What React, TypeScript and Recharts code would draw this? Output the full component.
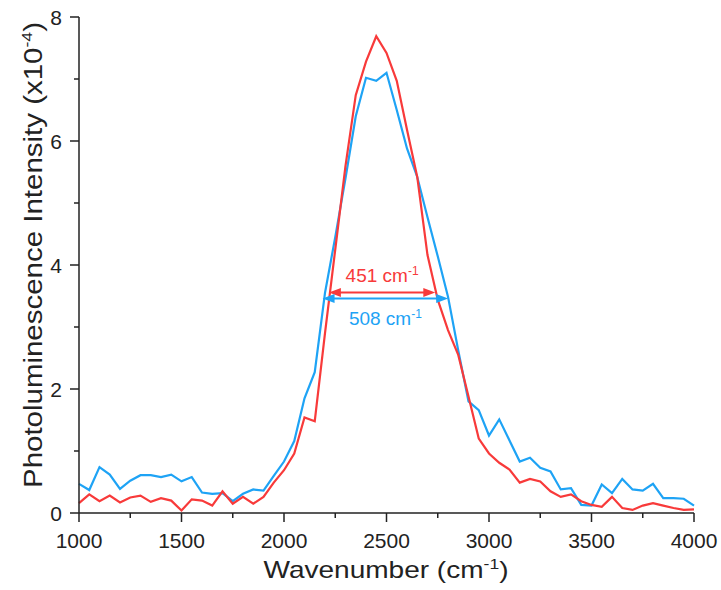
import React from 'react';
import { LineChart, Line, XAxis, YAxis, ReferenceLine } from 'recharts';

const wavenumbers = [
  1000, 1050, 1100, 1150, 1200, 1250, 1300, 1350, 1400, 1450,
  1500, 1550, 1600, 1650, 1700, 1750, 1800, 1850, 1900, 1950,
  2000, 2050, 2100, 2150, 2200, 2250, 2300, 2350, 2400, 2450,
  2500, 2550, 2600, 2650, 2700, 2750, 2800, 2850, 2900, 2950,
  3000, 3050, 3100, 3150, 3200, 3250, 3300, 3350, 3400, 3450,
  3500, 3550, 3600, 3650, 3700, 3750, 3800, 3850, 3900, 3950,
  4000,
];

const redIntensity = [
  0.16, 0.30, 0.19, 0.28, 0.17, 0.25, 0.28, 0.18, 0.24, 0.20,
  0.04, 0.22, 0.20, 0.12, 0.35, 0.15, 0.26, 0.15, 0.26, 0.49,
  0.69, 0.96, 1.54, 1.48, 2.90, 4.25, 5.60, 6.74, 7.28, 7.69,
  7.42, 6.97, 6.18, 5.42, 4.16, 3.44, 2.95, 2.55, 1.88, 1.20,
  0.96, 0.81, 0.70, 0.49, 0.55, 0.51, 0.35, 0.26, 0.30, 0.19,
  0.13, 0.10, 0.26, 0.08, 0.05, 0.12, 0.16, 0.12, 0.08, 0.05,
  0.06,
];

const blueIntensity = [
  0.47, 0.37, 0.74, 0.62, 0.39, 0.52, 0.61, 0.61, 0.58, 0.62,
  0.51, 0.58, 0.33, 0.31, 0.32, 0.19, 0.31, 0.38, 0.36, 0.60,
  0.83, 1.16, 1.85, 2.27, 3.55, 4.45, 5.40, 6.40, 7.02, 6.97,
  7.10, 6.50, 5.88, 5.42, 4.77, 4.14, 3.49, 2.62, 1.80, 1.66,
  1.25, 1.51, 1.17, 0.83, 0.89, 0.73, 0.67, 0.38, 0.40, 0.13,
  0.12, 0.46, 0.32, 0.55, 0.38, 0.36, 0.47, 0.24, 0.24, 0.23,
  0.12,
];

const xTicks = [1000, 1250, 1500, 1750, 2000, 2250, 2500, 2750, 3000, 3250, 3500, 3750, 4000];
const xMajorTicks = [1000, 1500, 2000, 2500, 3000, 3500, 4000];
const yTicks = [0, 1, 2, 3, 4, 5, 6, 7, 8];
const yMajorTicks = [0, 2, 4, 6, 8];

const fwhmLabels = ['451', '508'];
const fwhmStart = [2219, 2188];
const fwhmEnd = [2738, 2801];
const fwhmLevel = [3.555, 3.46];

const RED = '#f83a3a';
const BLUE = '#1ea3f5';
const AXIS = '#222';
const FONT = '"Liberation Sans", Arial, sans-serif';

const data = wavenumbers.map((w, i) => ({ w, red: redIntensity[i], blue: blueIntensity[i] }));

const XTick = (props: any) => {
  const { x, y, payload } = props;
  const major = xMajorTicks.includes(payload.value);
  return (
    <g>
      <line x1={x} y1={y} x2={x} y2={y + (major ? 9 : 5)} stroke={AXIS} strokeWidth={1.5} />
      {major && (
        <text x={x} y={y + 35} textAnchor="middle" fontSize={21} fill={AXIS} fontFamily={FONT}>
          {payload.value}
        </text>
      )}
    </g>
  );
};

const YTick = (props: any) => {
  const { x, y, payload } = props;
  const major = yMajorTicks.includes(payload.value);
  return (
    <g>
      <line x1={x} y1={y} x2={x - (major ? 9 : 5)} y2={y} stroke={AXIS} strokeWidth={1.5} />
      {major && (
        <text x={x - 17} y={y + 7.5} textAnchor="end" fontSize={21} fill={AXIS} fontFamily={FONT}>
          {payload.value}
        </text>
      )}
    </g>
  );
};

const makeArrow = (color: string, label: string, labelDy: number) => (p: any) => {
  const { x1, y1, x2 } = p;
  const hl = 12;
  const hw = 4.5;
  const cx = (x1 + x2) / 2;
  return (
    <g>
      <line x1={x1 + hl - 1} y1={y1} x2={x2 - hl + 1} y2={y1} stroke={color} strokeWidth={2} />
      <polygon points={`${x1},${y1} ${x1 + hl},${y1 - hw} ${x1 + hl},${y1 + hw}`} fill={color} />
      <polygon points={`${x2},${y1} ${x2 - hl},${y1 - hw} ${x2 - hl},${y1 + hw}`} fill={color} />
      <text x={cx} y={y1 + labelDy} textAnchor="middle" fontSize={19} fill={color} fontFamily={FONT}>
        {label} cm
        <tspan dy={-7} fontSize={12}>-1</tspan>
      </text>
    </g>
  );
};

const XLabel = () => (
  <text
    x={386}
    y={578}
    textAnchor="middle"
    fontSize={24}
    fill={AXIS}
    fontFamily={FONT}
    textLength={245}
    lengthAdjust="spacingAndGlyphs"
  >
    Wavenumber (cm
    <tspan dy={-9} fontSize={15}>-1</tspan>
    <tspan dy={9}>)</tspan>
  </text>
);

const YLabel = () => (
  <text
    x={42}
    y={255}
    transform="rotate(-90 42 255)"
    textAnchor="middle"
    fontSize={25}
    fill={AXIS}
    fontFamily={FONT}
    textLength={466}
    lengthAdjust="spacingAndGlyphs"
  >
    Photoluminescence Intensity (x10
    <tspan dy={-10} fontSize={15}>-4</tspan>
    <tspan dy={10}>)</tspan>
  </text>
);

export default function App() {
  return (
    <div style={{ position: 'absolute', left: 0, top: 0, width: 721, height: 590, background: '#fff' }}>
      <LineChart width={721} height={590} data={data} margin={{ top: 17, right: 27, bottom: 0, left: 0 }}>
        <XAxis
          dataKey="w"
          type="number"
          domain={[1000, 4000]}
          ticks={xTicks}
          interval={0}
          height={77}
          tickSize={0}
          tickMargin={0}
          tickLine={false}
          axisLine={{ stroke: AXIS, strokeWidth: 1.5 }}
          tick={<XTick />}
          label={{ content: () => <XLabel /> }}
        />
        <YAxis
          type="number"
          domain={[0, 8]}
          ticks={yTicks}
          interval={0}
          width={79}
          tickSize={0}
          tickMargin={0}
          tickLine={false}
          axisLine={{ stroke: AXIS, strokeWidth: 1.5 }}
          tick={<YTick />}
          label={{ content: () => <YLabel /> }}
        />
        <Line
          type="linear"
          dataKey="blue"
          stroke={BLUE}
          strokeWidth={2.2}
          dot={false}
          isAnimationActive={false}
        />
        <Line
          type="linear"
          dataKey="red"
          stroke={RED}
          strokeWidth={2.2}
          dot={false}
          isAnimationActive={false}
        />
        <ReferenceLine
          segment={[
            { x: fwhmStart[0], y: fwhmLevel[0] },
            { x: fwhmEnd[0], y: fwhmLevel[0] },
          ]}
          shape={makeArrow(RED, fwhmLabels[0], -11)}
        />
        <ReferenceLine
          segment={[
            { x: fwhmStart[1], y: fwhmLevel[1] },
            { x: fwhmEnd[1], y: fwhmLevel[1] },
          ]}
          shape={makeArrow(BLUE, fwhmLabels[1], 27)}
        />
      </LineChart>
    </div>
  );
}
